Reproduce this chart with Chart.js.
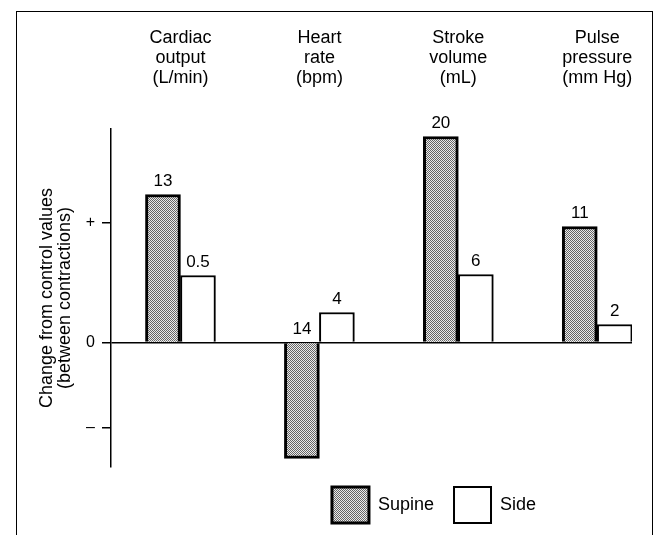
<!DOCTYPE html>
<html>
<head>
<meta charset="utf-8">
<script src="https://cdn.jsdelivr.net/npm/chart.js@4.4.1/dist/chart.umd.min.js"></script>
<style>
  html, body { margin: 0; padding: 0; background: #fff; overflow: hidden; }
  canvas { position: absolute; left: 0; top: 0; }
  #frame { position: absolute; left: 16px; top: 11px; width: 635px; height: 600px; border: 1.5px solid #000; pointer-events: none; }
</style>
</head>
<body>
<canvas id="chart" width="868" height="535"></canvas>
<div id="frame"></div>
<script>
// Measures (top labels)
const categories = [
    ['Cardiac', 'output', '(L/min)'],
    ['Heart', 'rate', '(bpm)'],
    ['Stroke', 'volume', '(mL)'],
    ['Pulse', 'pressure', '(mm Hg)']
];

// Bar heights as drawn (schematic units, 0 = control)
const supineHeights = [148, -116, 206, 116];
const sideHeights = [67, 30, 68, 18];

// Numbers printed above the bars
const supineLabels = ['13', '14', '20', '11'];
const sideLabels = ['0.5', '4', '6', '2'];

// Y axis marks
const yTickValues = [-85, 0, 120];
const yTickLabels = ['\u2013', '0', '+'];

const FONT = '"Liberation Sans", Arial, Helvetica, sans-serif';

// Stippled grey fill for the supine bars
function makeStipple() {
    const c = document.createElement('canvas');
    c.width = 2;
    c.height = 2;
    const g = c.getContext('2d');
    g.fillStyle = '#ececec';
    g.fillRect(0, 0, 2, 2);
    g.fillStyle = '#666';
    g.fillRect(0, 0, 1, 1);
    g.fillRect(1, 1, 1, 1);
    return g.createPattern(c, 'repeat');
}

// Numbers over each bar (or over the zero line for negative bars)
const barLabels = {
    id: 'barLabels',
    afterDatasetsDraw(chart) {
        const ctx = chart.ctx;
        const texts = [supineLabels, sideLabels];
        ctx.save();
        ctx.font = '17px ' + FONT;
        ctx.fillStyle = '#000';
        ctx.textAlign = 'center';
        ctx.textBaseline = 'alphabetic';
        chart.data.datasets.forEach((ds, i) => {
            chart.getDatasetMeta(i).data.forEach((bar, j) => {
                const top = Math.min(bar.y, bar.base);
                ctx.fillText(texts[i][j], bar.x, top - 9);
            });
        });
        ctx.restore();
    }
};

const stipple = makeStipple();

new Chart(document.getElementById('chart').getContext('2d'), {
    type: 'bar',
    data: {
        datasets: [{
            label: 'Supine',
            data: supineHeights.map((v, i) => ({ x: i, y: v })),
            backgroundColor: stipple,
            borderColor: '#000',
            borderWidth: 3,
            barThickness: 35
        }, {
            label: 'Side',
            data: sideHeights.map((v, i) => ({ x: i, y: v })),
            backgroundColor: '#fff',
            borderColor: '#000',
            borderWidth: 2,
            barThickness: 35
        }]
    },
    options: {
        responsive: false,
        animation: false,
        devicePixelRatio: 1,
        layout: { padding: { left: 0, right: 0, top: 0, bottom: 2 } },
        plugins: {
            tooltip: { enabled: false },
            legend: {
                position: 'bottom',
                labels: {
                    boxWidth: 37,
                    boxHeight: 36,
                    padding: 20,
                    color: '#000',
                    font: { family: FONT, size: 18 }
                }
            }
        },
        scales: {
            x: {
                type: 'linear',
                position: 'top',
                min: -0.5,
                max: 3.25,
                offset: false,
                grid: { display: false, drawTicks: false },
                border: { display: false },
                afterBuildTicks: s => { s.ticks = categories.map((c, i) => ({ value: i })); },
                afterFit: s => { s.height = 129; },
                ticks: {
                    padding: 41,
                    maxRotation: 0,
                    autoSkip: false,
                    color: '#000',
                    font: { family: FONT, size: 18, lineHeight: 1.12 },
                    callback: v => categories[v]
                }
            },
            y: {
                min: -124.5,
                max: 213.5,
                afterBuildTicks: s => { s.ticks = yTickValues.map(v => ({ value: v })); },
                afterFit: s => { s.width = 111; },
                grid: {
                    color: c => (c.tick && c.tick.value === 0) ? '#000' : 'rgba(0,0,0,0)',
                    tickColor: '#000',
                    tickLength: 9,
                    lineWidth: 1.5
                },
                border: { display: true, color: '#000', width: 1.5 },
                ticks: {
                    padding: 7,
                    color: '#000',
                    font: { family: FONT, size: 16 },
                    callback: v => yTickLabels[yTickValues.indexOf(v)]
                },
                title: {
                    display: true,
                    text: ['Change from control values', '(between contractions)'],
                    color: '#000',
                    font: { family: FONT, size: 18, lineHeight: 1 },
                    padding: { top: 38, bottom: 0 }
                }
            },
            // empty spacer axis: keeps the plot narrow while the legend spans the wide canvas
            spacer: {
                type: 'linear',
                position: 'right',
                display: true,
                grid: { display: false, drawTicks: false },
                border: { display: false },
                ticks: { display: false },
                afterFit: s => { s.width = 236; }
            }
        }
    },
    plugins: [barLabels]
});
</script>
</body>
</html>
